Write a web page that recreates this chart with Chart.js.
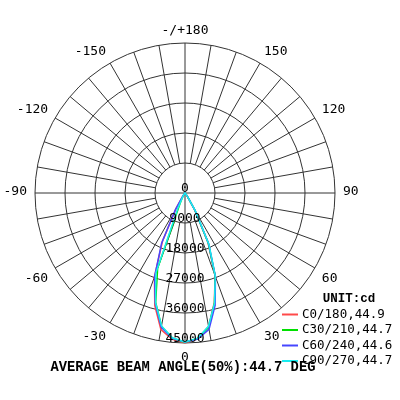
<!DOCTYPE html>
<html>
<head>
<meta charset="utf-8">
<script src="https://cdn.jsdelivr.net/npm/chart.js@4/dist/chart.umd.min.js"></script>
<style>
  html, body { margin: 0; padding: 0; background: #fff; }
  #wrap { width: 400px; height: 400px; position: relative; }
</style>
</head>
<body>
<div id="wrap"><canvas id="polarChart"></canvas></div>
<script>
// gamma angles (deg) of the measured half-profiles, 0 = straight down
const GAMMA = [0, 5, 10, 15, 20, 25, 30, 35, 40, 45, 50, 55, 60, 65, 70, 75, 80, 85, 90]

// intensity in cd, one array per half plane
const C0   = [44900, 43900, 40700, 34000, 26400, 16200, 5600, 1300, 350, 120, 60, 40, 30, 20, 15, 10, 10, 5, 0]
const C180 = [44900, 44100, 41600, 35000, 26800, 16000, 5400, 1200, 330, 110, 60, 40, 30, 20, 15, 10, 10, 5, 0]
const C30  = [44800, 43800, 40900, 34200, 26500, 16500, 5800, 1300, 350, 120, 60, 40, 30, 20, 15, 10, 10, 5, 0]
const C210 = [44800, 43700, 40600, 34000, 24000, 3500, 1500, 600, 250, 100, 60, 40, 30, 20, 15, 10, 10, 5, 0]
const C60  = [44700, 44000, 41500, 34900, 26700, 16800, 6000, 1400, 360, 120, 60, 40, 30, 20, 15, 10, 10, 5, 0]
const C240 = [44700, 43800, 40900, 34400, 26600, 16600, 5800, 1300, 340, 110, 60, 40, 30, 20, 15, 10, 10, 5, 0]
const C90  = [44700, 43700, 40600, 34200, 26600, 17000, 6200, 1400, 360, 120, 60, 40, 30, 20, 15, 10, 10, 5, 0]
const C270 = [44700, 43600, 40500, 34100, 25500, 5000, 1600, 600, 250, 100, 60, 40, 30, 20, 15, 10, 10, 5, 0]

const PLANE_NAMES = ['C0/180,44.9', 'C30/210,44.7', 'C60/240,44.6', 'C90/270,44.7']
const PLANE_COLORS = ['#ff4a4a', '#00e000', '#4646ff', '#19ecf0']

const ANGLE_TICKS = [0, -30, -60, -90, -120, -150, 180, 150, 120, 90, 60, 30]
const RING_TICKS = [0, 9000, 18000, 27000, 36000, 45000]
const MAX_CD = 45000
const STEP_CD = 9000

const GRID = '#333'
const SANS_MONO = '"DejaVu Sans Mono", monospace'
const SERIF_MONO = '"Liberation Mono", "Courier New", monospace'

// around the circle clockwise from the bottom: left side first, then right side
const LABELS = []
for (let i = 0; i < 72; i++) {
  if (i === 0) LABELS.push(0)
  else if (i === 36) LABELS.push(180)
  else if (i < 36) LABELS.push(-5 * i)
  else LABELS.push(5 * (72 - i))
}

function planeSeries(right, left) {
  return LABELS.map(g => {
    const side = g < 0 ? left : right
    const idx = GAMMA.indexOf(Math.abs(g))
    return idx === -1 ? 0 : side[idx]
  })
}

const PLANES = [[C0, C180], [C30, C210], [C60, C240], [C90, C270]]

const polarDecor = {
  id: 'polarDecor',
  beforeDatasetsDraw(chart) {
    const r = chart.scales.r
    const ctx = chart.ctx
    ctx.save()
    ctx.strokeStyle = GRID
    ctx.lineWidth = 1
    ctx.beginPath()
    LABELS.forEach((g, i) => {
      if (g % 10 !== 0) return
      const from = g % 90 === 0 ? 0 : STEP_CD
      const a = r.getPointPositionForValue(i, from)
      const b = r.getPointPositionForValue(i, MAX_CD)
      ctx.moveTo(a.x, a.y)
      ctx.lineTo(b.x, b.y)
    })
    ctx.stroke()
    ctx.restore()
  },
  afterDraw(chart) {
    const r = chart.scales.r
    const ctx = chart.ctx
    ctx.save()
    ctx.fillStyle = '#000'

    // ring values along the 0 direction
    ctx.font = '13px ' + SANS_MONO
    ctx.textAlign = 'center'
    ctx.textBaseline = 'middle'
    RING_TICKS.forEach(v => {
      const p = r.getPointPositionForValue(0, v)
      ctx.fillText(String(v), p.x, p.y - 4.5)
    })

    // angle labels round the outside
    ANGLE_TICKS.forEach(g => {
      const i = LABELS.indexOf(g)
      const p = r.getPointPosition(i, r.drawingArea + 8)
      const dx = p.x - r.xCenter
      const dy = p.y - r.yCenter
      ctx.textAlign = Math.abs(dx) < 1 ? 'center' : dx > 0 ? 'left' : 'right'
      ctx.textBaseline = Math.abs(dy) < 1 ? 'middle' : dy > 0 ? 'top' : 'bottom'
      const text = g === 180 ? '-/+180' : String(g)
      const yShift = Math.abs(dy) < 1 ? -1 : dy > 0 ? 0 : 2
      ctx.fillText(text, p.x, p.y + yShift)
    })

    // unit + legend
    ctx.font = 'bold 12.5px ' + SERIF_MONO
    ctx.textAlign = 'center'
    ctx.textBaseline = 'middle'
    ctx.fillText('UNIT:cd', 349, 298.5)

    ctx.font = '12.5px ' + SANS_MONO
    ctx.textAlign = 'left'
    PLANE_NAMES.forEach((name, k) => {
      const y = 314.5 + k * 15.5
      ctx.strokeStyle = PLANE_COLORS[k]
      ctx.lineWidth = 2
      ctx.beginPath()
      ctx.moveTo(282, y)
      ctx.lineTo(298, y)
      ctx.stroke()
      ctx.fillStyle = '#000'
      ctx.fillText(name, 302, y)
    })

    ctx.font = 'bold 13.8px ' + SERIF_MONO
    ctx.textAlign = 'left'
    ctx.fillText('AVERAGE BEAM ANGLE(50%):44.7 DEG', 50.5, 368)
    ctx.restore()
  }
}

new Chart(document.getElementById('polarChart'), {
  type: 'radar',
  data: {
    labels: LABELS,
    datasets: PLANES.map(([right, left], k) => ({
      label: PLANE_NAMES[k],
      data: planeSeries(right, left),
      borderColor: PLANE_COLORS[k],
      backgroundColor: 'transparent',
      borderWidth: 1.5,
      pointRadius: 0,
      pointHoverRadius: 0,
      fill: false,
      tension: 0,
      order: 4 - k,
    })),
  },
  options: {
    responsive: true,
    maintainAspectRatio: false,
    animation: false,
    events: [],
    layout: { padding: { left: 35, top: 43, right: 65, bottom: 57 } },
    plugins: {
      legend: { display: false },
      tooltip: { enabled: false },
    },
    scales: {
      r: {
        startAngle: 180,
        min: 0,
        max: MAX_CD,
        ticks: { stepSize: STEP_CD, display: false },
        grid: { circular: true, color: GRID, lineWidth: 1 },
        angleLines: { display: false },
        pointLabels: { display: false },
      },
    },
  },
  plugins: [polarDecor],
})
</script>
</body>
</html>
